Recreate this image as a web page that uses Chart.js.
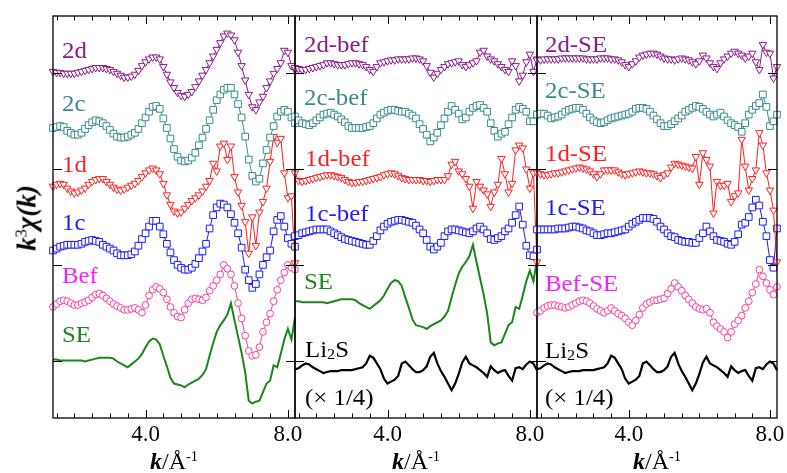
<!DOCTYPE html>
<html>
<head>
<meta charset="utf-8">
<title>k3 chi(k)</title>
<script src="https://cdn.jsdelivr.net/npm/chart.js@4.4.1/dist/chart.umd.min.js"></script>
<style>
  html, body { margin: 0; padding: 0; background: #fff; }
  #wrap { position: relative; width: 787px; height: 473px; overflow: hidden;
          font-family: "Liberation Serif", "Times New Roman", serif; color: #000; }
  #wrap canvas { position: absolute; top: 0; }
  .lbl { position: absolute; font-size: 23px; line-height: 1; white-space: nowrap;
         transform-origin: 0 50%; transform: translateY(-50%) scaleX(1.08); }
  .lbl sub { font-size: 0.65em; vertical-align: -0.15em; line-height: 0; }
  .xt { position: absolute; top: 449px; font-size: 24px; line-height: 1; white-space: nowrap;
        transform: translateX(-50%); }
  .xt sup, .yt sup { font-size: 0.6em; vertical-align: 0.55em; line-height: 0; font-weight: normal; font-style: normal; }
  .yt { position: absolute; left: 27px; top: 218px; font-size: 27px; line-height: 1; white-space: nowrap;
        transform: translate(-50%, -50%) rotate(-90deg); }
</style>
</head>
<body>
<div id="wrap">
  <canvas id="c1"></canvas>
  <canvas id="c2"></canvas>
  <canvas id="c3"></canvas>
  <div class="yt"><b><i>k</i></b><sup>3</sup><b><i>&chi;(k)</i></b></div>
  <div class="xt" style="left:174px"><b><i>k</i></b>/&Aring;<sup>-1</sup></div>
  <div class="xt" style="left:416px"><b><i>k</i></b>/&Aring;<sup>-1</sup></div>
  <div class="xt" style="left:657px"><b><i>k</i></b>/&Aring;<sup>-1</sup></div>
</div>
<script>
// k grid shared by every spectrum (1/Angstrom)
const kGrid = [1.4,1.5,1.6,1.7,1.8,1.9,2.0,2.1,2.2,2.3,
  2.4,2.5,2.6,2.7,2.8,2.9,3.0,3.1,3.2,3.3,
  3.4,3.5,3.6,3.7,3.8,3.9,4.0,4.1,4.2,4.3,
  4.4,4.5,4.6,4.7,4.8,4.9,5.0,5.1,5.2,5.3,
  5.4,5.5,5.6,5.7,5.8,5.9,6.0,6.1,6.2,6.3,
  6.4,6.5,6.6,6.7,6.8,6.9,7.0,7.1,7.2,7.3,
  7.4,7.5,7.6,7.7,7.8,7.9,8.0,8.1,8.2];

// axis ranges and ticks
const kMin = 1.4, kMax = 8.2;
const yMin = -0.6, yMax = 3.6;
const xLabelTicks = [4.0, 8.0];
const xMinorTicks = [1.5,2.0,2.5,3.0,3.5,4.0,4.5,5.0,5.5,6.0,6.5,7.0,7.5,8.0];
const yTicks = [0, 1, 2, 3];

// panel 1 (stacked, already offset)
const s2d = [3.02,3.01,3.01,3.00,3.00,3.00,3.00,3.01,3.02,3.03,
  3.04,3.05,3.06,3.06,3.06,3.05,3.04,3.02,3.00,2.98,
  2.96,2.96,2.97,2.99,3.03,3.08,3.12,3.15,3.17,3.17,
  3.15,3.07,2.99,2.91,2.85,2.80,2.77,2.76,2.78,2.81,
  2.86,2.92,2.98,3.04,3.11,3.18,3.25,3.32,3.39,3.42,
  3.40,3.35,3.22,3.08,2.93,2.78,2.65,2.62,2.70,2.76,
  2.85,2.92,3.00,3.05,3.11,3.24,3.22,3.08,3.04];
const s2c = [2.43,2.44,2.45,2.44,2.40,2.38,2.36,2.36,2.38,2.42,
  2.46,2.49,2.51,2.50,2.48,2.45,2.41,2.37,2.34,2.33,
  2.33,2.34,2.36,2.38,2.42,2.48,2.54,2.60,2.65,2.66,
  2.63,2.53,2.43,2.32,2.21,2.13,2.09,2.08,2.09,2.12,
  2.17,2.25,2.33,2.42,2.51,2.62,2.72,2.78,2.83,2.85,
  2.85,2.78,2.68,2.54,2.34,2.10,1.93,1.87,1.90,2.06,
  2.20,2.33,2.45,2.55,2.60,2.62,2.60,2.54,2.48];
const s1d = [1.82,1.84,1.85,1.84,1.80,1.77,1.75,1.76,1.78,1.80,
  1.84,1.87,1.89,1.90,1.90,1.87,1.84,1.81,1.79,1.78,
  1.79,1.81,1.83,1.85,1.88,1.92,1.96,1.99,2.01,1.99,
  1.95,1.85,1.73,1.63,1.56,1.54,1.55,1.59,1.63,1.67,
  1.70,1.73,1.77,1.82,1.88,2.06,1.98,2.24,2.27,2.10,
  2.24,1.92,1.76,1.62,1.45,1.12,1.50,1.20,1.55,1.66,
  1.80,2.08,2.34,2.28,2.32,1.96,1.70,1.72,1.02];
const s1c = [1.15,1.17,1.19,1.20,1.21,1.21,1.21,1.21,1.22,1.24,
  1.25,1.26,1.25,1.24,1.21,1.19,1.17,1.15,1.12,1.10,
  1.10,1.10,1.11,1.14,1.20,1.27,1.33,1.40,1.46,1.46,
  1.40,1.32,1.22,1.13,1.05,1.00,0.97,0.95,0.95,0.97,
  1.01,1.07,1.14,1.22,1.38,1.52,1.60,1.64,1.63,1.60,
  1.53,1.44,1.33,1.18,0.95,0.84,0.76,0.80,0.90,1.00,
  1.08,1.15,1.35,1.47,1.51,1.40,1.28,1.22,1.19];
const sBef = [0.56,0.59,0.62,0.63,0.62,0.60,0.58,0.58,0.60,0.61,
  0.63,0.66,0.69,0.70,0.68,0.65,0.62,0.59,0.57,0.55,
  0.53,0.53,0.54,0.55,0.53,0.50,0.58,0.68,0.74,0.77,
  0.75,0.71,0.64,0.56,0.50,0.46,0.45,0.53,0.60,0.64,
  0.65,0.64,0.63,0.66,0.73,0.78,0.84,0.90,1.00,0.96,
  0.90,0.78,0.60,0.44,0.26,0.10,0.05,0.06,0.14,0.30,
  0.40,0.49,0.62,0.74,0.84,0.92,1.00,0.97,0.95];
const sSE = [0.01,0.01,0.00,0.00,0.00,0.00,0.00,0.00,0.00,-0.01,
  0.00,0.01,0.02,0.03,0.03,0.03,0.03,0.02,-0.01,-0.03,
  -0.05,-0.07,-0.04,-0.01,0.02,0.07,0.14,0.20,0.23,0.22,
  0.17,0.05,-0.06,-0.18,-0.24,-0.25,-0.26,-0.28,-0.25,-0.23,
  -0.21,-0.19,-0.15,-0.09,0.05,0.18,0.30,0.37,0.42,0.48,
  0.60,0.42,0.25,0.08,-0.12,-0.42,-0.45,-0.43,-0.42,-0.33,
  -0.24,-0.21,-0.05,-0.07,0.07,0.22,0.33,0.22,0.45];
const seShift = [0, 0.61];   // SE baseline in panel 1 and panel 2

// panel 2: differences to "bef"
const s2dBef = [3.06,3.05,3.04,3.04,3.05,3.06,3.07,3.08,3.09,3.11,
  3.11,3.10,3.09,3.09,3.09,3.10,3.11,3.11,3.10,3.09,
  3.07,3.04,3.02,3.07,3.11,3.12,3.13,3.14,3.14,3.15,
  3.15,3.15,3.15,3.16,3.16,3.15,3.13,3.08,3.01,2.96,
  3.00,3.04,3.07,3.10,3.11,3.12,3.13,3.09,3.07,3.09,
  3.11,3.13,3.22,3.24,3.18,3.15,3.13,3.10,3.07,3.04,
  3.02,3.13,3.08,2.92,2.98,3.12,3.20,3.02,3.15];
const s2cBef = [2.55,2.51,2.48,2.47,2.46,2.48,2.51,2.54,2.57,2.58,
  2.59,2.57,2.55,2.52,2.49,2.45,2.43,2.43,2.43,2.43,
  2.44,2.45,2.48,2.53,2.57,2.59,2.61,2.62,2.62,2.61,
  2.60,2.60,2.58,2.56,2.53,2.47,2.42,2.36,2.29,2.33,
  2.38,2.46,2.53,2.60,2.66,2.62,2.58,2.52,2.54,2.60,
  2.64,2.66,2.67,2.64,2.60,2.48,2.40,2.34,2.37,2.39,
  2.47,2.54,2.62,2.65,2.63,2.60,2.50,2.50,2.57];
const s1dBef = [1.96,1.88,1.87,1.88,1.89,1.90,1.91,1.92,1.93,1.94,
  1.94,1.93,1.92,1.91,1.89,1.87,1.86,1.86,1.87,1.87,
  1.88,1.89,1.90,1.91,1.92,1.94,1.95,1.96,1.95,1.93,
  1.91,1.90,1.89,1.89,1.89,1.89,1.88,1.88,1.87,1.88,
  1.89,1.89,1.89,1.93,2.05,2.08,1.98,1.95,1.90,1.82,
  1.59,1.87,1.82,1.78,1.74,1.61,1.76,1.84,2.11,1.95,
  1.76,1.85,2.20,2.25,2.22,2.00,1.80,1.96,1.03];
const s1cBef = [1.30,1.31,1.33,1.34,1.35,1.36,1.37,1.37,1.37,1.37,
  1.35,1.33,1.31,1.29,1.27,1.26,1.25,1.24,1.23,1.22,
  1.21,1.21,1.25,1.30,1.36,1.40,1.43,1.45,1.46,1.47,
  1.47,1.46,1.45,1.44,1.41,1.37,1.33,1.26,1.19,1.16,
  1.19,1.23,1.30,1.35,1.37,1.37,1.36,1.35,1.34,1.33,
  1.35,1.38,1.40,1.37,1.33,1.27,1.26,1.28,1.30,1.35,
  1.38,1.44,1.52,1.61,1.42,1.20,1.10,1.09,1.16];
// Li2S reference, scaled x1/4 (same trace in panels 2 and 3)
const sLi2S = [-0.09,-0.08,-0.05,-0.03,-0.04,-0.07,-0.09,-0.11,-0.13,-0.12,
  -0.11,-0.11,-0.11,-0.10,-0.10,-0.10,-0.10,-0.09,-0.08,-0.07,
  -0.03,0.05,0.03,-0.03,-0.09,-0.19,-0.24,-0.22,-0.20,-0.16,
  -0.03,-0.01,-0.05,-0.09,-0.12,-0.12,-0.10,-0.06,0.04,0.08,
  -0.03,-0.11,-0.17,-0.24,-0.31,-0.24,-0.14,-0.02,0.04,-0.03,
  -0.05,-0.07,-0.10,-0.13,-0.17,-0.06,-0.10,-0.13,-0.11,-0.10,
  -0.16,-0.21,-0.08,-0.07,-0.09,-0.04,-0.01,-0.03,-0.10];

// panel 3: differences to SE
const s2dSE = [3.14,3.14,3.15,3.15,3.15,3.15,3.15,3.16,3.16,3.16,
  3.16,3.16,3.16,3.16,3.15,3.15,3.15,3.15,3.16,3.16,
  3.16,3.15,3.15,3.14,3.12,3.09,3.07,3.10,3.13,3.17,
  3.19,3.20,3.21,3.21,3.20,3.18,3.16,3.15,3.15,3.14,
  3.15,3.16,3.15,3.14,3.12,3.10,3.13,3.19,3.16,3.11,
  3.07,3.05,3.11,3.15,3.18,3.21,3.23,3.21,3.19,3.16,
  3.18,3.21,3.12,3.04,3.30,3.22,3.21,2.95,3.07];
const s2cSE = [2.57,2.58,2.58,2.56,2.53,2.54,2.55,2.57,2.60,2.62,
  2.63,2.64,2.64,2.62,2.58,2.54,2.51,2.49,2.48,2.49,
  2.51,2.53,2.54,2.55,2.56,2.57,2.58,2.60,2.63,2.64,
  2.64,2.63,2.60,2.56,2.52,2.48,2.45,2.45,2.47,2.50,
  2.53,2.56,2.60,2.62,2.64,2.66,2.65,2.63,2.60,2.57,
  2.55,2.57,2.59,2.55,2.51,2.48,2.46,2.44,2.39,2.48,
  2.57,2.62,2.66,2.69,2.78,2.65,2.45,2.50,2.57];
const s1dSE = [1.96,1.95,1.94,1.94,1.95,1.96,1.96,1.97,1.98,1.99,
  2.00,2.01,2.02,2.01,2.00,1.98,1.95,1.92,1.95,1.99,
  1.99,1.99,1.99,1.97,1.95,1.94,1.95,1.96,1.97,1.98,
  1.97,1.96,1.96,1.95,1.93,1.91,1.94,1.96,2.02,2.06,
  2.05,2.04,2.03,2.02,2.01,2.13,1.84,2.17,2.10,2.03,
  1.54,1.87,1.83,1.83,1.85,1.66,1.72,1.75,2.31,2.03,
  1.78,1.90,1.99,2.38,2.25,1.96,1.78,1.57,1.03];
const s1cSE = [1.37,1.37,1.37,1.37,1.37,1.37,1.38,1.38,1.38,1.39,
  1.40,1.40,1.39,1.38,1.36,1.35,1.33,1.31,1.31,1.32,
  1.33,1.33,1.34,1.35,1.36,1.37,1.40,1.43,1.45,1.47,
  1.49,1.49,1.49,1.48,1.45,1.40,1.37,1.33,1.30,1.29,
  1.26,1.25,1.24,1.24,1.23,1.23,1.28,1.33,1.40,1.35,
  1.30,1.26,1.25,1.24,1.22,1.21,1.24,1.32,1.42,1.44,
  1.50,1.60,1.68,1.62,1.45,1.30,1.05,0.97,1.38];
const sBefSE = [0.50,0.52,0.55,0.57,0.58,0.58,0.57,0.56,0.55,0.56,
  0.58,0.60,0.62,0.63,0.62,0.60,0.57,0.54,0.52,0.50,
  0.52,0.55,0.52,0.49,0.47,0.44,0.40,0.37,0.42,0.48,
  0.55,0.59,0.61,0.63,0.63,0.64,0.65,0.70,0.75,0.81,
  0.77,0.73,0.68,0.64,0.60,0.56,0.54,0.53,0.54,0.50,
  0.40,0.36,0.33,0.30,0.24,0.30,0.38,0.42,0.47,0.55,
  0.62,0.71,0.80,0.95,0.88,0.81,0.74,0.69,0.77];

const PURPLE = '#8b1a8b', TEAL = '#3a8c8c', RED = '#ff1f1f', BLUE = '#1c1cff',
      PINK = '#ff3c9a', MAGENTA = '#ff1aff', GREEN = '#1e841e', BLACK = '#000';

// marker looks
const tri = c => ({color: c, marker: 'triangle', rotation: 180, radius: 4.3, lineWidth: 1});
const sq = c => ({color: c, marker: 'rect', radius: 4.7, lineWidth: 1});
const circ = c => ({color: c, marker: 'circle', radius: 3.4, lineWidth: 1});
const plain = (c, w) => ({color: c, marker: false, radius: 0, lineWidth: w});

const PAD = 30;
const panels = [
  {id: 'c1', left: 53, width: 242, curves: [
    [s2d, 0, tri(PURPLE)], [s2c, 0, sq(TEAL)], [s1d, 0, tri(RED)],
    [s1c, 0, sq(BLUE)], [sBef, 0, circ(PINK)], [sSE, seShift[0], plain(GREEN, 2)]]},
  {id: 'c2', left: 295, width: 242, curves: [
    [s2dBef, 0, tri(PURPLE)], [s2cBef, 0, sq(TEAL)], [s1dBef, 0, tri(RED)],
    [s1cBef, 0, sq(BLUE)], [sSE, seShift[1], plain(GREEN, 2)], [sLi2S, 0, plain(BLACK, 2.2)]]},
  {id: 'c3', left: 537, width: 240, curves: [
    [s2dSE, 0, tri(PURPLE)], [s2cSE, 0, sq(TEAL)], [s1dSE, 0, tri(RED)],
    [s1cSE, 0, sq(BLUE)], [sBefSE, 0, circ(PINK)], [sLi2S, 0, plain(BLACK, 2.2)]]}
];

const curveLabels = [
  ['2d', PURPLE, 62, 50], ['2c', TEAL, 62, 103], ['1d', RED, 62, 164],
  ['1c', BLUE, 62, 222], ['Bef', MAGENTA, 62, 275], ['SE', GREEN, 62, 334],
  ['2d-bef', PURPLE, 304, 44], ['2c-bef', TEAL, 304, 97], ['1d-bef', RED, 305, 158],
  ['1c-bef', BLUE, 305, 213], ['SE', GREEN, 304, 281],
  ['Li<sub>2</sub>S', BLACK, 305, 349], ['(&times; 1/4)', BLACK, 305, 397],
  ['2d-SE', PURPLE, 545, 44], ['2c-SE', TEAL, 545, 90], ['1d-SE', RED, 545, 153],
  ['1c-SE', BLUE, 545, 207], ['Bef-SE', MAGENTA, 545, 283],
  ['Li<sub>2</sub>S', BLACK, 545, 350], ['(&times; 1/4)', BLACK, 545, 397]
];

// frame + inward ticks on all four sides
const frameTicks = {
  id: 'frameTicks',
  afterDraw(chart) {
    const {ctx, chartArea: a, scales: {x, y}} = chart;
    const seg = (x1, y1, x2, y2) => { ctx.beginPath(); ctx.moveTo(x1, y1); ctx.lineTo(x2, y2); ctx.stroke(); };
    ctx.save();
    ctx.strokeStyle = '#000';
    ctx.lineWidth = 1;
    xMinorTicks.forEach(v => {
      const px = Math.round(x.getPixelForValue(v)) + 0.5;
      const len = xLabelTicks.includes(v) ? 8 : 4.5;
      seg(px, a.bottom, px, a.bottom - len);
      seg(px, a.top, px, a.top + len);
    });
    yTicks.forEach(v => {
      const py = Math.round(y.getPixelForValue(v)) + 0.5;
      seg(a.left, py, a.left + 9, py);
      seg(a.right, py, a.right - 9, py);
    });
    ctx.lineWidth = 1.3;
    ctx.strokeRect(a.left, a.top, a.right - a.left, a.bottom - a.top);
    ctx.restore();
  }
};

Chart.defaults.font.family = '"Liberation Serif", "Times New Roman", serif';
Chart.defaults.color = '#000';

function makeDataset(values, shift, look) {
  return {
    data: kGrid.map((k, i) => ({x: k, y: values[i] + shift})),
    showLine: true,
    tension: 0,
    borderColor: look.color,
    borderWidth: look.lineWidth,
    pointStyle: look.marker,
    pointRadius: look.radius,
    pointRotation: look.rotation || 0,
    pointBackgroundColor: '#fff',
    pointBorderColor: look.color,
    pointBorderWidth: 1,
    clip: 6
  };
}

panels.forEach(p => {
  const canvas = document.getElementById(p.id);
  canvas.width = p.width + 2 * PAD;
  canvas.height = 473;
  canvas.style.left = (p.left - PAD) + 'px';
  new Chart(canvas, {
    type: 'scatter',
    data: {datasets: p.curves.map(c => makeDataset(c[0], c[1], c[2]))},
    options: {
      responsive: false,
      animation: false,
      devicePixelRatio: 1,
      events: [],
      layout: {padding: {left: PAD, right: PAD, top: 16, bottom: 0}},
      plugins: {legend: {display: false}, tooltip: {enabled: false}},
      scales: {
        x: {
          type: 'linear', min: kMin, max: kMax,
          grid: {display: false, drawTicks: false},
          border: {display: false},
          ticks: {padding: 3, font: {size: 23}, color: '#000', maxRotation: 0, autoSkip: false,
                  callback: v => v.toFixed(1)},
          afterBuildTicks: s => { s.ticks = xLabelTicks.map(v => ({value: v})); },
          afterFit: s => { s.height = 55; s.paddingLeft = 0; s.paddingRight = 0; }
        },
        y: {display: false, min: yMin, max: yMax}
      }
    },
    plugins: [frameTicks]
  });
});

// curve names
const wrap = document.getElementById('wrap');
curveLabels.forEach(([text, color, left, top]) => {
  const d = document.createElement('div');
  d.className = 'lbl';
  d.innerHTML = text;
  d.style.color = color;
  d.style.left = left + 'px';
  d.style.top = top + 'px';
  wrap.appendChild(d);
});
</script>
</body>
</html>
